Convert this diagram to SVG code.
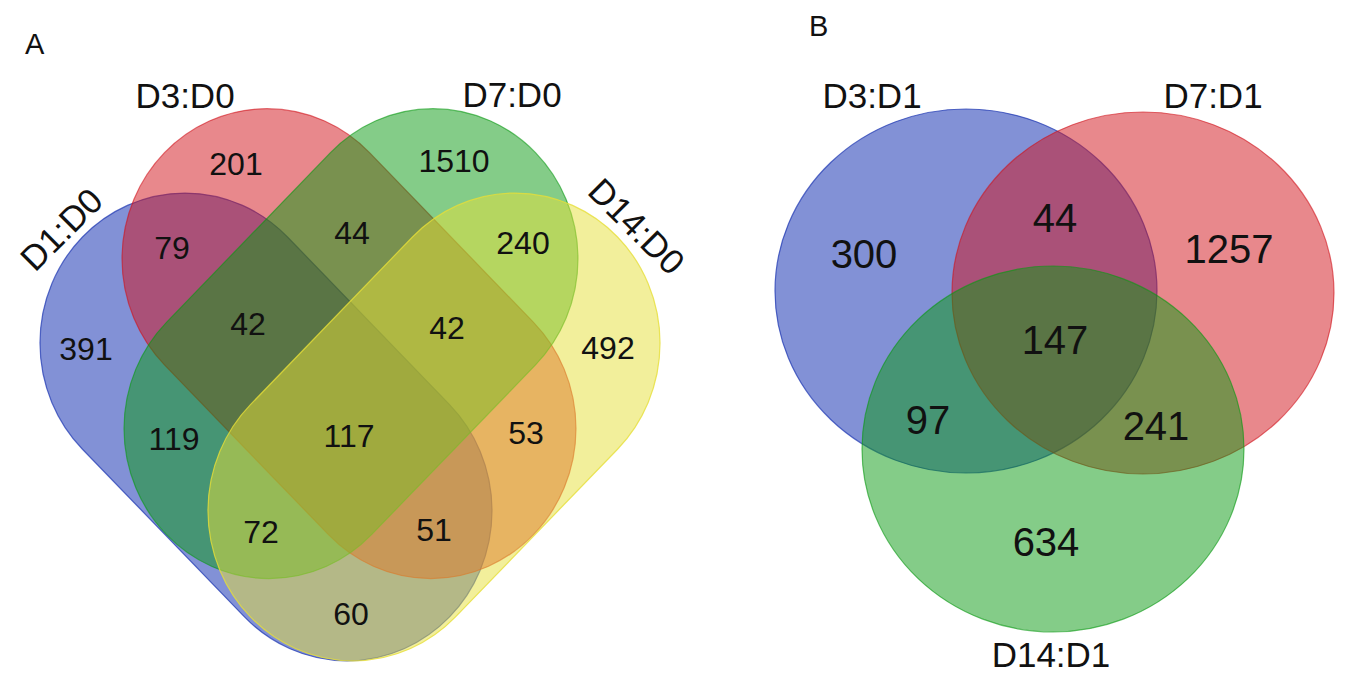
<svg xmlns="http://www.w3.org/2000/svg" width="1357" height="678" viewBox="0 0 1357 678">
<style>
text{font-family:"Liberation Sans",Arial,sans-serif;fill:#111;}
.num{font-size:32px;text-anchor:middle;}
.numB{font-size:40px;text-anchor:middle;}
.lab{font-size:35px;text-anchor:middle;}
.pan{font-size:29px;}
.blue{fill:#0524ad;fill-opacity:.5;stroke:#1a33b0;stroke-opacity:.7;stroke-width:1.2;}
.red{fill:#d1121a;fill-opacity:.5;stroke:#d1121a;stroke-opacity:.6;stroke-width:1.2;}
.green{fill:#0a9a12;fill-opacity:.5;stroke:#0a9a12;stroke-opacity:.6;stroke-width:1.2;}
.yellow{fill:#e6df38;fill-opacity:.5;stroke:#e6df38;stroke-opacity:.8;stroke-width:1.2;}
</style>
<rect width="1357" height="678" fill="#fff"/>
<g id="panelA">
<text class="pan" x="25" y="54">A</text>
<g transform="scale(1,1.035)">
<g id="setA-D1"><rect class="blue" x="6.42" y="267.5" width="519.16" height="290" rx="145" ry="145" transform="rotate(45 266 412.5)"/></g>
<g id="setA-D3"><rect class="red" x="88.05" y="187" width="521.9" height="290" rx="145" ry="145" transform="rotate(45 349 332)"/></g>
<g id="setA-D7"><rect class="green" x="90.05" y="187" width="521.9" height="290" rx="145" ry="145" transform="rotate(-45 351 332)"/></g>
<g id="setA-D14"><rect class="yellow" x="174.42" y="267.5" width="519.16" height="290" rx="145" ry="145" transform="rotate(-45 434 412.5)"/></g>
</g>
<g id="labelsA">
<text class="lab" x="185" y="108">D3:D0</text>
<text class="lab" x="512" y="107">D7:D0</text>
<text class="lab" transform="translate(70 238) rotate(-45)">D1:D0</text>
<text class="lab" transform="translate(628 235) rotate(45)">D14:D0</text>
</g>
<g id="countsA">
<text class="num" x="236" y="175">201</text>
<text class="num" x="454" y="172">1510</text>
<text class="num" x="172" y="259">79</text>
<text class="num" x="352" y="244">44</text>
<text class="num" x="523" y="254">240</text>
<text class="num" x="248" y="335">42</text>
<text class="num" x="447" y="339">42</text>
<text class="num" x="86" y="360">391</text>
<text class="num" x="608" y="359">492</text>
<text class="num" x="174" y="450">119</text>
<text class="num" x="349" y="447">117</text>
<text class="num" x="526" y="444">53</text>
<text class="num" x="261" y="543">72</text>
<text class="num" x="434" y="541">51</text>
<text class="num" x="351" y="625">60</text>
</g>
</g>
<g id="panelB">
<text class="pan" x="809" y="36">B</text>
<g id="setB-D3"><ellipse class="blue" cx="966" cy="291" rx="191" ry="182"/></g>
<g id="setB-D7"><ellipse class="red" cx="1143" cy="293" rx="191" ry="181"/></g>
<g id="setB-D14"><ellipse class="green" cx="1053" cy="449" rx="191" ry="183"/></g>
<g id="labelsB">
<text class="lab" x="872" y="108">D3:D1</text>
<text class="lab" x="1213" y="108">D7:D1</text>
<text class="lab" x="1051" y="667">D14:D1</text>
</g>
<g id="countsB">
<text class="numB" x="864" y="268">300</text>
<text class="numB" x="1229" y="263">1257</text>
<text class="numB" x="1055" y="232">44</text>
<text class="numB" x="1055" y="354">147</text>
<text class="numB" x="928" y="434">97</text>
<text class="numB" x="1156" y="440">241</text>
<text class="numB" x="1046" y="556">634</text>
</g>
</g>
</svg>
